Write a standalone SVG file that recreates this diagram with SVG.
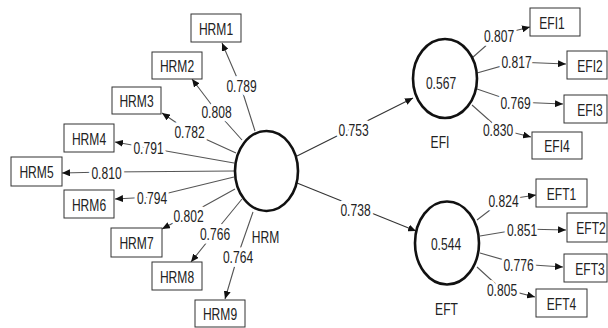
<svg xmlns="http://www.w3.org/2000/svg" width="608" height="328" viewBox="0 0 608 328">
<defs>
<marker id="ah" viewBox="0 0 8 7" markerWidth="8" markerHeight="7" refX="8" refY="3.5" orient="auto" markerUnits="userSpaceOnUse">
<path d="M0,0 L8,3.5 L0,7 z" fill="#111"/>
</marker>
<style>
.c{fill:none;stroke:#555;stroke-width:1.1;marker-end:url(#ah)}
.s{fill:none;stroke:#333;stroke-width:1.1;marker-end:url(#ah)}
.b{fill:#fff;stroke:#333;stroke-width:1}
.lv{fill:#fff;stroke:#111;stroke-width:2.6}
text{font-family:"Liberation Sans",Arial,sans-serif;font-size:17px;fill:#222;text-anchor:middle}
.w{paint-order:stroke;stroke:#fff;stroke-width:8px;stroke-linejoin:round}
</style>
</defs>
<rect width="608" height="328" fill="#fff"/>
<g id="connectors">
<polyline class="c" points="255,131 241,87 222,43"/>
<polyline class="c" points="242,140 217,112 192,79"/>
<polyline class="c" points="236,153 190,132 162,113"/>
<polyline class="c" points="234,163 149,148 115,142"/>
<polyline class="c" points="234,171 106,172 62,173"/>
<polyline class="c" points="234,177 152,197 115,199"/>
<polyline class="c" points="235,189 188,215 162,229"/>
<polyline class="c" points="242,199 215,232 191,262"/>
<polyline class="c" points="253,212 238,255 225,299"/>
<line class="s" x1="297" y1="156" x2="413" y2="98"/>
<line class="s" x1="297" y1="183" x2="416" y2="231"/>
<polyline class="c" points="472,58 498,35 530,27"/>
<polyline class="c" points="477,73 516,62 566,64"/>
<polyline class="c" points="477,89 515,102 563,104"/>
<polyline class="c" points="472,105 499,129 531,137"/>
<polyline class="c" points="477,220 503,200 536,195"/>
<polyline class="c" points="480,236 522,229 566,230"/>
<polyline class="c" points="480,253 518,264 563,267"/>
<polyline class="c" points="477,267 500,288 535,297"/>
<text class="w" transform="translate(241.5,92) scale(.71,1)">0.789</text>
<text class="w" transform="translate(216.5,118) scale(.71,1)">0.808</text>
<text class="w" transform="translate(189.5,138) scale(.71,1)">0.782</text>
<text class="w" transform="translate(148.5,154) scale(.71,1)">0.791</text>
<text class="w" transform="translate(106.5,179) scale(.71,1)">0.810</text>
<text class="w" transform="translate(152,204) scale(.71,1)">0.794</text>
<text class="w" transform="translate(188.5,222) scale(.71,1)">0.802</text>
<text class="w" transform="translate(215,240) scale(.71,1)">0.766</text>
<text class="w" transform="translate(238,263) scale(.71,1)">0.764</text>
<text class="w" transform="translate(353.5,136) scale(.71,1)">0.753</text>
<text class="w" transform="translate(355.5,216) scale(.71,1)">0.738</text>
<text class="w" transform="translate(499,42) scale(.71,1)">0.807</text>
<text class="w" transform="translate(516.5,68) scale(.71,1)">0.817</text>
<text class="w" transform="translate(515.5,109) scale(.71,1)">0.769</text>
<text class="w" transform="translate(498,136) scale(.71,1)">0.830</text>
<text class="w" transform="translate(503.5,207) scale(.71,1)">0.824</text>
<text class="w" transform="translate(522,236) scale(.71,1)">0.851</text>
<text class="w" transform="translate(518.5,271) scale(.71,1)">0.776</text>
<text class="w" transform="translate(502,296) scale(.71,1)">0.805</text>
</g>
<g id="HRM">
<ellipse class="lv" cx="266.5" cy="171" rx="31.5" ry="40"/>
<text transform="translate(265.5,243) scale(.71,1)">HRM</text>
</g>
<g id="EFI">
<ellipse class="lv" cx="445" cy="78.5" rx="32" ry="39.5"/>
<text transform="translate(441,89) scale(.71,1)">0.567</text>
<text transform="translate(440,148) scale(.71,1)">EFI</text>
</g>
<g id="EFT">
<ellipse class="lv" cx="447" cy="243" rx="32" ry="41.5"/>
<text transform="translate(446,250) scale(.71,1)">0.544</text>
<text transform="translate(446.5,315) scale(.71,1)">EFT</text>
</g>
<g id="HRM1"><rect class="b" x="191" y="14" width="50" height="28"/><text transform="translate(216,34.5) scale(.71,1)">HRM1</text></g>
<g id="HRM2"><rect class="b" x="152" y="52" width="50" height="27"/><text transform="translate(177,71.5) scale(.71,1)">HRM2</text></g>
<g id="HRM3"><rect class="b" x="112" y="87" width="49" height="27"/><text transform="translate(136.5,106.5) scale(.71,1)">HRM3</text></g>
<g id="HRM4"><rect class="b" x="64" y="124" width="50" height="28"/><text transform="translate(89,144.5) scale(.71,1)">HRM4</text></g>
<g id="HRM5"><rect class="b" x="11" y="157" width="51" height="29"/><text transform="translate(36.5,177.5) scale(.71,1)">HRM5</text></g>
<g id="HRM6"><rect class="b" x="64" y="190" width="50" height="28"/><text transform="translate(89,210.5) scale(.71,1)">HRM6</text></g>
<g id="HRM7"><rect class="b" x="111" y="228" width="51" height="29"/><text transform="translate(136.5,248.5) scale(.71,1)">HRM7</text></g>
<g id="HRM8"><rect class="b" x="152" y="262" width="50" height="28"/><text transform="translate(177,282.5) scale(.71,1)">HRM8</text></g>
<g id="HRM9"><rect class="b" x="195" y="300" width="50" height="27"/><text transform="translate(220,320) scale(.71,1)">HRM9</text></g>
<g id="EFI1"><rect class="b" x="530" y="8" width="50" height="28"/><text transform="translate(552,28.5) scale(.71,1)">EFI1</text></g>
<g id="EFI2"><rect class="b" x="567" y="51" width="40" height="28"/><text transform="translate(590,71.5) scale(.71,1)">EFI2</text></g>
<g id="EFI3"><rect class="b" x="564" y="95" width="43" height="28"/><text transform="translate(590,115.5) scale(.71,1)">EFI3</text></g>
<g id="EFI4"><rect class="b" x="532" y="132" width="50" height="27"/><text transform="translate(557,151.5) scale(.71,1)">EFI4</text></g>
<g id="EFT1"><rect class="b" x="536" y="179" width="51" height="28"/><text transform="translate(561.5,199.5) scale(.71,1)">EFT1</text></g>
<g id="EFT2"><rect class="b" x="567" y="213" width="40" height="29"/><text transform="translate(591,233.5) scale(.71,1)">EFT2</text></g>
<g id="EFT3"><rect class="b" x="564" y="254" width="43" height="28"/><text transform="translate(590,274.5) scale(.71,1)">EFT3</text></g>
<g id="EFT4"><rect class="b" x="536" y="289" width="51" height="28"/><text transform="translate(561.5,309.5) scale(.71,1)">EFT4</text></g>
</svg>
